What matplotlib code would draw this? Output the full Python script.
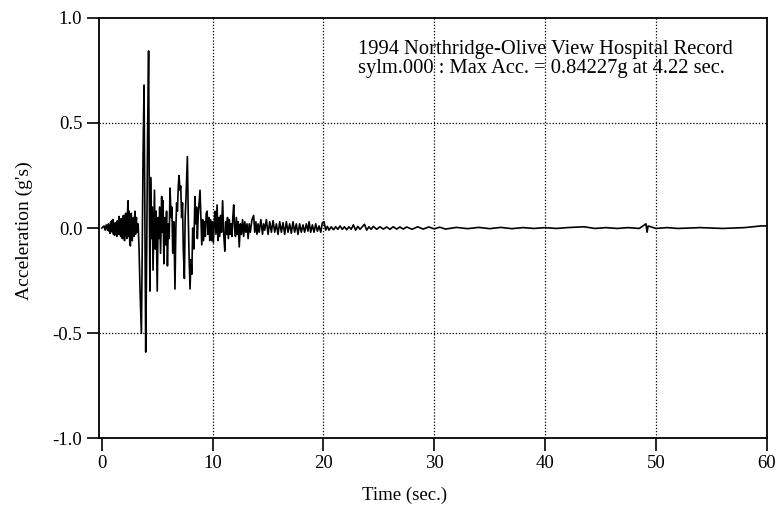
import matplotlib
matplotlib.use("Agg")
import matplotlib.pyplot as plt

# Olive View Hospital record, peaks (time in sec, acceleration in g)
# split in four stretches so each pair of lists stays short
pre_time = [
    0.0, 0.2, 0.3, 0.4, 0.5, 0.6, 0.65, 0.7, 0.75, 0.8, 0.85, 0.9, 0.95,
    1.0, 1.05, 1.1, 1.15, 1.2, 1.25, 1.3, 1.35, 1.4, 1.45, 1.5, 1.55, 1.6,
    1.65, 1.7, 1.75, 1.8, 1.85, 1.9, 1.95, 2.0, 2.05, 2.1, 2.15, 2.2, 2.25,
    2.3, 2.37, 2.42, 2.47, 2.52, 2.58, 2.62, 2.66, 2.7, 2.75, 2.8, 2.85,
    2.9, 2.95, 2.99, 3.04, 3.08, 3.12, 3.17, 3.22, 3.28, 3.36,
]
pre_acc = [
    0.0, 0.01, -0.01, 0.015, -0.01, 0.02, -0.015, 0.01, -0.025, 0.03,
    -0.01, 0.035, -0.02, 0.04, -0.03, 0.02, -0.035, 0.025, -0.02, 0.015,
    -0.04, 0.035, -0.03, 0.02, 0.055, -0.03, 0.02, -0.04, 0.045, -0.03,
    -0.05, 0.03, 0.06, -0.04, -0.06, 0.05, 0.07, -0.03, -0.05, 0.06, 0.13,
    -0.04, 0.08, -0.07, -0.085, 0.05, 0.07, -0.05, -0.06, 0.04, 0.05,
    -0.04, 0.03, 0.08, -0.03, 0.02, 0.05, -0.02, 0.01, 0.02, -0.1,
]

strong_time = [
    3.45, 3.57, 3.63, 3.72, 3.81, 3.88, 3.96, 4.05, 4.13, 4.22, 4.28, 4.34,
    4.40, 4.47, 4.55, 4.62, 4.70, 4.75, 4.82, 4.9, 5.0, 5.08, 5.15, 5.22,
    5.3, 5.4, 5.45, 5.52, 5.6, 5.68, 5.76, 5.84, 5.92, 6.0, 6.08, 6.15,
    6.25, 6.32, 6.4, 6.5, 6.6, 6.68, 6.75, 6.82, 6.9, 6.97, 7.05, 7.12,
    7.2, 7.28, 7.35, 7.45, 7.52, 7.6, 7.72, 7.8, 7.88, 7.96, 8.04, 8.12,
    8.2, 8.3, 8.4, 8.47, 8.55, 8.62, 8.7, 8.78, 8.86, 8.94, 9.02, 9.1,
    9.18, 9.26, 9.34, 9.42, 9.5, 9.58, 9.66, 9.74, 9.82, 9.9, 9.98,
]
strong_acc = [
    -0.3, -0.5, -0.2, 0.35, 0.68, 0.1, -0.59, -0.1, 0.45, 0.84227, 0.2,
    -0.30, 0.24, -0.05, 0.1, -0.2, 0.05, 0.18, -0.1, 0.08, -0.30, 0.05,
    -0.05, 0.1, -0.12, 0.15, -0.02, 0.13, -0.17, 0.05, -0.08, 0.08, -0.18,
    0.02, -0.05, 0.19, 0.05, 0.1, -0.12, 0.03, -0.29, 0.0, 0.12, 0.08,
    0.2, 0.25, 0.18, 0.2, 0.05, 0.12, -0.1, -0.24, 0.05, 0.15, 0.34, 0.05,
    -0.15, -0.29, -0.15, -0.22, 0.0, -0.1, 0.15, 0.02, 0.1, -0.05, 0.06,
    0.12, 0.18, 0.05, -0.08, 0.04, -0.06, 0.03, -0.04, 0.07, 0.08, -0.03,
    0.05, -0.06, 0.04, -0.06, 0.03,
]

coda_time = [
    10.06, 10.14, 10.22, 10.3, 10.4, 10.48, 10.56, 10.64, 10.72, 10.8,
    10.9, 11.0, 11.1, 11.18, 11.26, 11.34, 11.42, 11.5, 11.58, 11.66,
    11.74, 11.82, 11.9, 11.98, 12.06, 12.14, 12.22, 12.3, 12.4, 12.5, 12.6,
    12.7, 12.8, 12.9, 13.0, 13.1, 13.2, 13.3, 13.4, 13.55, 13.7, 13.8,
    13.9, 14.0, 14.1, 14.2, 14.35, 14.5, 14.6, 14.7, 14.85, 15.0, 15.15,
    15.3, 15.45, 15.6, 15.75, 15.9, 16.05, 16.2, 16.35, 16.5, 16.65, 16.8,
    16.95, 17.1, 17.25, 17.4, 17.55, 17.7, 17.85, 18.0, 18.15, 18.3, 18.45,
    18.6, 18.7, 18.85, 19.0, 19.15, 19.3, 19.45, 19.6, 19.75, 19.9,
]
coda_acc = [
    -0.07, 0.02, 0.08, -0.03, 0.11, -0.06, 0.05, -0.04, 0.06, -0.02, 0.13,
    -0.03, -0.11, 0.03, -0.03, 0.05, -0.05, 0.04, -0.03, 0.02, -0.04,
    0.05, 0.11, 0.0, -0.04, 0.05, -0.03, 0.03, -0.09, 0.02, -0.03, 0.04,
    -0.04, 0.03, -0.02, 0.02, -0.05, 0.02, -0.02, 0.04, 0.06, -0.02, 0.03,
    -0.03, 0.02, -0.02, 0.04, -0.03, 0.02, -0.01, 0.04, -0.03, 0.03,
    -0.02, 0.035, -0.02, 0.02, -0.03, 0.03, -0.02, 0.025, -0.03, 0.03,
    -0.02, 0.02, -0.025, 0.03, -0.02, 0.02, -0.03, 0.02, -0.02, 0.015,
    -0.02, 0.02, -0.015, 0.03, -0.02, 0.015, -0.02, 0.02, -0.015, 0.01,
    -0.02, 0.025,
]

tail_time = [
    20.05, 20.2, 20.35, 20.5, 20.7, 20.9, 21.1, 21.3, 21.5, 21.7, 21.9,
    22.1, 22.3, 22.5, 22.7, 22.9, 23.1, 23.3, 23.5, 23.7, 23.9, 24.1, 24.3,
    24.5, 24.8, 25.1, 25.4, 25.7, 26.0, 26.3, 26.6, 26.9, 27.2, 27.5, 28.0,
    28.5, 29.0, 29.5, 30.0, 30.5, 31.0, 32.0, 33.0, 34.0, 35.0, 36.0, 37.0,
    38.0, 39.0, 40.0, 41.0, 42.0, 43.5, 44.5, 45.5, 46.5, 47.5, 48.5, 49.1,
    49.2, 49.3, 50.0, 51.0, 52.0, 54.0, 56.0, 58.0, 59.5, 60.0,
]
tail_acc = [
    0.03, -0.01, 0.008, -0.01, 0.006, -0.008, 0.006, -0.006, 0.01, -0.006,
    0.006, -0.008, 0.006, -0.006, 0.015, -0.01, 0.008, -0.006, 0.006,
    0.018, -0.01, 0.006, -0.006, 0.008, -0.006, 0.006, -0.005, 0.005,
    -0.006, 0.006, -0.005, 0.005, -0.005, 0.005, -0.006, 0.006, -0.005,
    0.005, -0.004, 0.004, -0.005, 0.003, -0.003, 0.003, -0.003, 0.003,
    -0.003, 0.002, -0.002, 0.002, -0.002, 0.002, 0.006, -0.002, 0.002,
    -0.002, 0.002, -0.002, 0.02, -0.02, 0.01, -0.002, 0.002, -0.002, 0.002,
    -0.002, 0.002, 0.01, 0.01,
]

x_ticks = [0, 10, 20, 30, 40, 50, 60]
y_ticks = [-1.0, -0.5, 0.0, 0.5, 1.0]
y_tick_labels = ["-1.0", "-0.5", "0.0", "0.5", "1.0"]

title_line1 = "1994 Northridge-Olive View Hospital Record"
title_line2 = "sylm.000 : Max Acc. = 0.84227g at 4.22 sec."

plt.rcParams["font.family"] = ["Liberation Serif", "DejaVu Serif"]

fig = plt.figure(figsize=(7.8, 5.09), dpi=100)
ax = fig.add_axes([0.127, 0.139, 0.856, 0.826])

# dotted grid, drawn under the trace
for gx in x_ticks[1:-1]:
    ax.axvline(gx, color="black", lw=0.9, ls=(0, (1, 1.5)), zorder=1)
for gy in (-0.5, 0.5):
    ax.axhline(gy, color="black", lw=0.9, ls=(0, (1, 1.5)), zorder=1)

time_sec = pre_time + strong_time + coda_time + tail_time
accel_g = pre_acc + strong_acc + coda_acc + tail_acc
ax.plot(time_sec, accel_g, color="black", lw=1.2, zorder=3)

ax.set_xlim(-0.25, 60)
ax.set_ylim(-1.0, 1.0)
ax.set_xticks(x_ticks)
ax.set_yticks(y_ticks)
ax.set_yticklabels(y_tick_labels)
ax.tick_params(direction="out", length=9, width=1.2, labelsize=13.5, pad=3)
for side in ax.spines.values():
    side.set_linewidth(1.3)

ax.set_xlabel("Time (sec.)", fontsize=13.5)
ax.set_ylabel("Acceleration (g's)", fontsize=14)
ax.xaxis.set_label_coords(0.457, -0.115)
ax.yaxis.set_label_coords(-0.099, 0.495)

ax.text(23.15, 0.848, title_line1, fontsize=14.8, va="center", ha="left")
ax.text(23.15, 0.758, title_line2, fontsize=14.8, va="center", ha="left")

fig.savefig("out.png", dpi=100)
